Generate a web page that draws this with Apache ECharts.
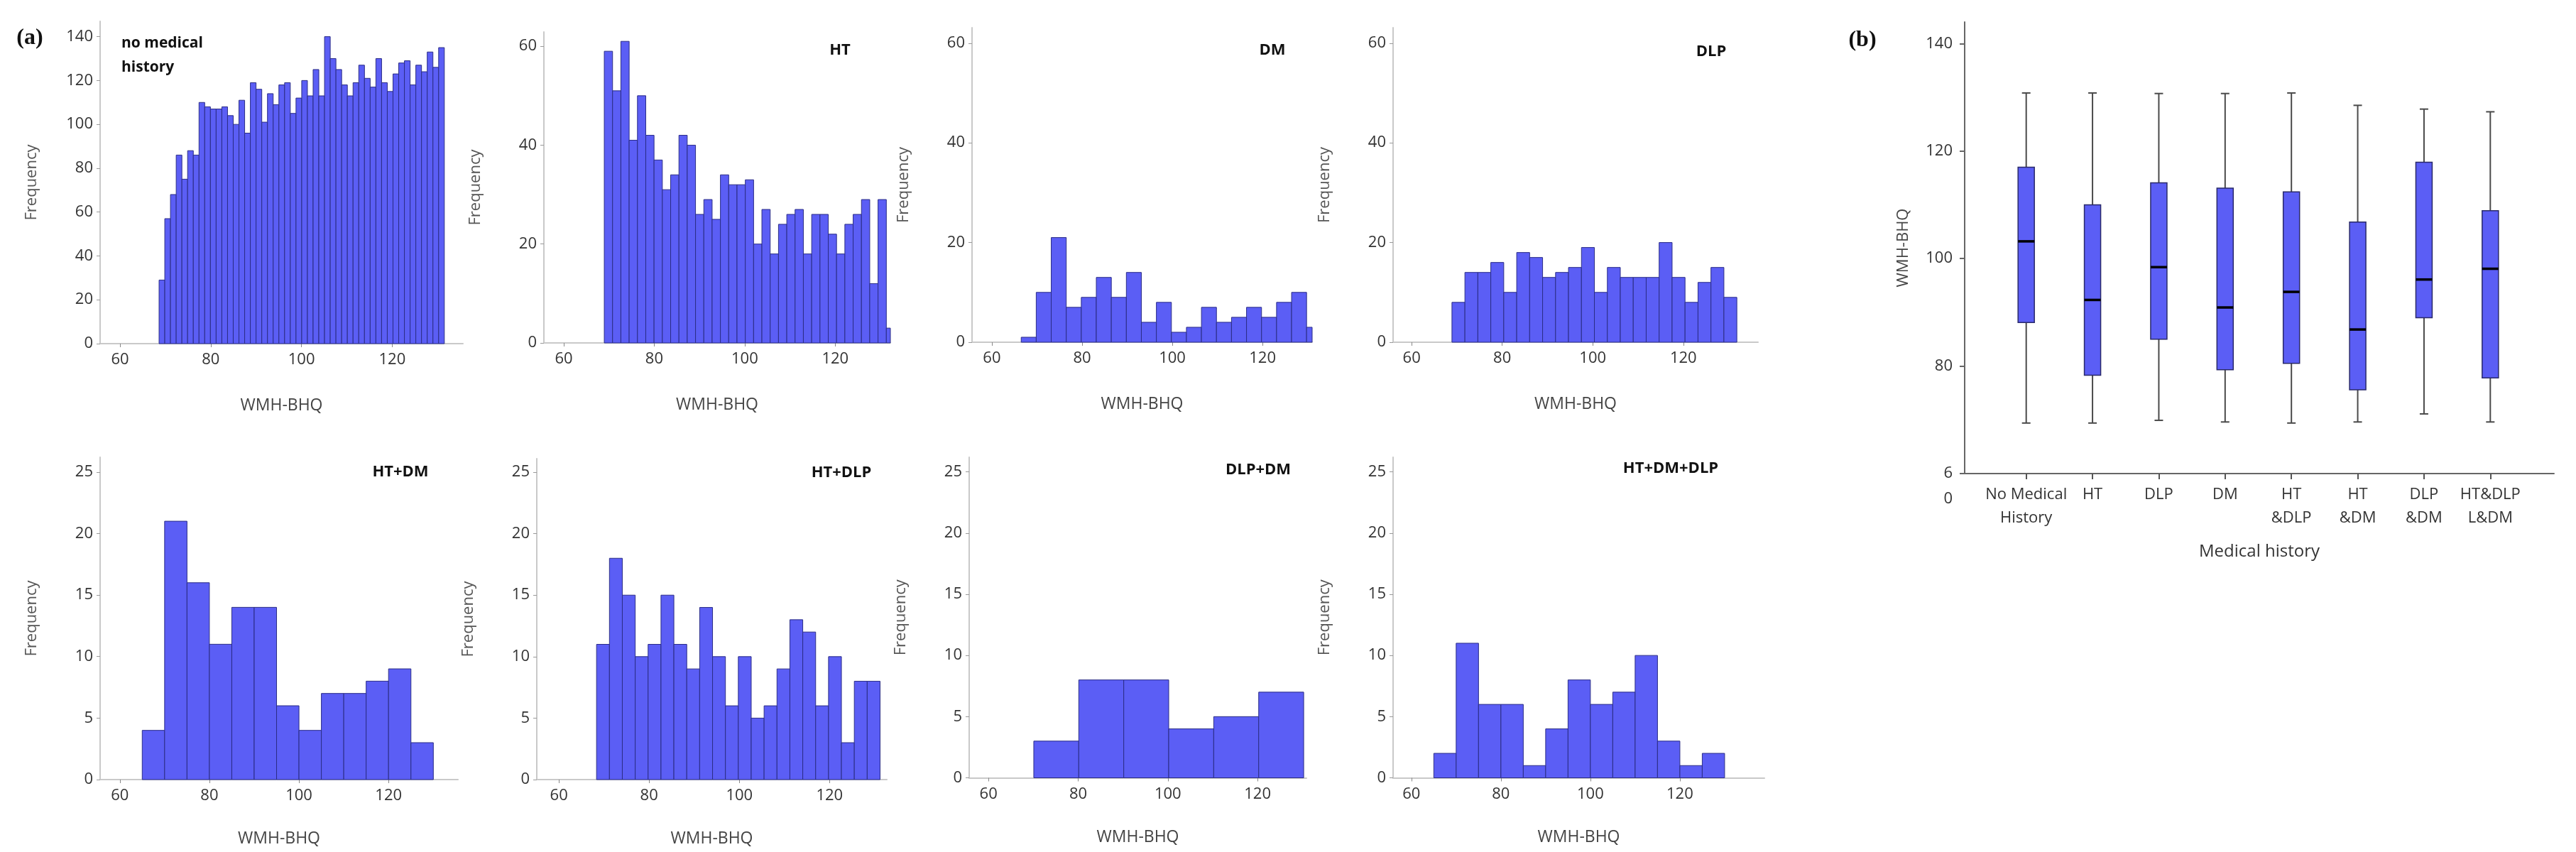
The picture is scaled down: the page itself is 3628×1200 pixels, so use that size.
<!DOCTYPE html>
<html><head><meta charset="utf-8">
<script src="https://cdn.jsdelivr.net/npm/echarts/dist/echarts.min.js"></script>
<style>html,body{margin:0;padding:0;background:#fff}#c{width:3628px;height:1200px}</style>
</head><body><div id="c"></div>
<script>
// ---------- data ----------
const panelNames = ['no medical\nhistory','HT','DM','DLP','HT+DM','HT+DLP','DLP+DM','HT+DM+DLP'];
const freqNone = [29,57,68,86,75,88,86,110,108,107,107,108,104,100,111,96,119,116,101,114,109,118,119,105,112,120,113,125,113,140,130,125,118,113,119,127,121,117,130,119,115,123,128,129,118,127,124,133,126,135];
const freqHT = [59,51,61,41,50,42,37,31,34,42,40,26,29,25,34,32,32,33,20,27,18,24,26,27,18,26,26,22,18,24,26,29,12,29,3];
const freqDM = [1,10,21,7,9,13,9,14,4,8,2,3,7,4,5,7,5,8,10,3];
const freqDLP = [8,14,14,16,10,18,17,13,14,15,19,10,15,13,13,13,20,13,8,12,15,9];
const freqHTDM = [4,21,16,11,14,14,6,4,7,7,8,9,3];
const freqHTDLP = [11,18,15,10,11,15,11,9,14,10,6,10,5,6,9,13,12,6,10,3,8,8];
const freqDLPDM = [3,8,8,4,5,7];
const freqAll3 = [2,11,6,6,1,4,8,6,7,10,3,1,2];
const binStart = [68.6,68.95,66.5,68.9,65,68.35,70.1,65];
const binWidth = [1.258,1.834,3.33,2.86,5,2.857,10.03,5];
const xTicks = [60,80,100,120];
const yTicksNone = [0,20,40,60,80,100,120,140];
const yTicksTop = [0,20,40,60];
const yTicksBottom = [0,5,10,15,20,25];

const boxCats = ['No Medical\nHistory','HT','DLP','DM','HT\n&DLP','HT\n&DM','DLP\n&DM','HT&DLP\nL&DM'];
const boxLow  = [69.4,69.4,69.9,69.6,69.4,69.6,71.1,69.6];
const boxQ1   = [88.1,78.3,85.0,79.3,80.5,75.6,89.0,77.8];
const boxMed  = [103.2,92.3,98.4,90.9,93.8,86.8,96.1,98.1];
const boxQ3   = [117.0,110.0,114.1,113.1,112.4,106.8,117.9,108.9];
const boxHigh = [130.8,130.8,130.7,130.7,130.8,128.5,127.8,127.3];
const boxTicks = [60,80,100,120,140];

// ---------- layout ----------
const freqs = [freqNone,freqHT,freqDM,freqDLP,freqHTDM,freqHTDLP,freqDLPDM,freqAll3];
const layout = [
 {g:{left:141,top:30,width:511,height:454}, xMin:55.6,xMax:135.6,yMax:147,yt:yTicksNone, t:{x:171,y:44,align:'left',va:'top',fs:21}},
 {g:{left:766,top:45,width:488,height:438}, xMin:55.6,xMax:132.2,yMax:62.9,yt:yTicksTop, t:{x:1183,y:71}},
 {g:{left:1369,top:39,width:479,height:443}, xMin:55.6,xMax:131.0,yMax:63.1,yt:yTicksTop, t:{x:1792,y:71}},
 {g:{left:1962,top:39,width:514,height:443}, xMin:55.9,xMax:136.5,yMax:63.1,yt:yTicksTop, t:{x:2410,y:73}},
 {g:{left:141,top:644,width:504,height:454}, xMin:55.6,xMax:135.5,yMax:26.2,yt:yTicksBottom, t:{x:564,y:665}},
 {g:{left:756,top:646,width:493,height:452}, xMin:55.1,xMax:132.7,yMax:26.1,yt:yTicksBottom, t:{x:1185,y:666}},
 {g:{left:1365,top:644,width:475,height:451.5}, xMin:55.7,xMax:130.9,yMax:26.2,yt:yTicksBottom, t:{x:1772,y:662}},
 {g:{left:1962,top:644,width:523,height:451.5}, xMin:55.9,xMax:138.9,yMax:26.2,yt:yTicksBottom, t:{x:2353,y:660}}
];
const FONT = 'Open Sans';
const BAR_FILL = '#5b5ef5', BAR_STROKE = '#2b2d86';
const AX = '#c9c9c9', LBL = '#333';

function histRender(params, api) {
  const a = api.coord([api.value(0), api.value(2)]);
  const b = api.coord([api.value(1), 0]);
  const cs = params.coordSys;
  const shape = echarts.graphic.clipRectByRect(
    {x:a[0], y:a[1], width:b[0]-a[0], height:b[1]-a[1]},
    {x:cs.x, y:cs.y, width:cs.width, height:cs.height});
  return shape && {type:'rect', shape, style:{fill:BAR_FILL, stroke:BAR_STROKE, lineWidth:1}};
}
function boxRender(params, api) {
  const i = api.value(0);
  const lo = api.coord([i, api.value(1)]), q1 = api.coord([i, api.value(2)]),
        md = api.coord([i, api.value(3)]), q3 = api.coord([i, api.value(4)]),
        hi = api.coord([i, api.value(5)]);
  const cx = md[0], bw = 23, cw = 12;
  const ws = {stroke:'#4a4a4a', lineWidth:2};
  return {type:'group', children:[
    {type:'line', shape:{x1:cx,y1:hi[1],x2:cx,y2:q3[1]}, style:ws},
    {type:'line', shape:{x1:cx,y1:q1[1],x2:cx,y2:lo[1]}, style:ws},
    {type:'line', shape:{x1:cx-cw/2,y1:hi[1],x2:cx+cw/2,y2:hi[1]}, style:ws},
    {type:'line', shape:{x1:cx-cw/2,y1:lo[1],x2:cx+cw/2,y2:lo[1]}, style:ws},
    {type:'rect', shape:{x:cx-bw/2,y:q3[1],width:bw,height:q1[1]-q3[1]}, style:{fill:BAR_FILL, stroke:'#2a2a6a', lineWidth:1.5}},
    {type:'line', shape:{x1:cx-bw/2,y1:md[1],x2:cx+bw/2,y2:md[1]}, style:{stroke:'#000', lineWidth:3.5}}
  ]};
}

const grids = [], xAxes = [], yAxes = [], series = [], graphics = [];
layout.forEach((L, k) => {
  grids.push(Object.assign({containLabel:false}, L.g));
  xAxes.push({type:'value', gridIndex:k, min:L.xMin, max:L.xMax,
    name:'WMH-BHQ', nameLocation:'middle', nameGap: k<4 ? 76 : 72,
    nameTextStyle:{fontFamily:FONT, fontSize:23, color:'#444'},
    axisLine:{show:true, lineStyle:{color:AX, width:2}},
    axisTick:{show:true, length:5, lineStyle:{color:'#888'}, customValues:xTicks},
    axisLabel:{fontFamily:FONT, fontSize:22, color:LBL, margin:12, customValues:xTicks},
    splitLine:{show:false}});
  yAxes.push({type:'value', gridIndex:k, min:0, max:L.yMax,
    name:'Frequency', nameLocation:'middle', nameGap:85,
    nameTextStyle:{fontFamily:FONT, fontSize:22, color:'#555'},
    axisLine:{show:true, lineStyle:{color:AX, width:2}},
    axisTick:{show:true, length:5, lineStyle:{color:'#999'}, customValues:L.yt},
    axisLabel:{fontFamily:FONT, fontSize:22, color:LBL, margin:10, customValues:L.yt},
    splitLine:{show:false}});
  const f = freqs[k], s = binStart[k], w = binWidth[k];
  series.push({type:'custom', xAxisIndex:k, yAxisIndex:k, renderItem:histRender,
    encode:{x:[0,1], y:2},
    data: f.map((v,i) => [s + i*w, s + (i+1)*w, v])});
  graphics.push({type:'text', x:L.t.x, y:L.t.y, style:{text:panelNames[k],
    fontFamily:FONT, fontWeight:'bold', fontSize:L.t.fs||22, fill:'#111',
    align:L.t.align||'center', verticalAlign:L.t.va||'middle', lineHeight:34}});
});

// boxplot: grid 8 = axis frame, grid 9 = category placement
grids.push({left:2767, top:31, width:830, height:636});
grids.push({left:2807, top:31, width:747, height:636});
xAxes.push({type:'value', gridIndex:8, min:0, max:1,
  name:'Medical history', nameLocation:'middle', nameGap:98,
  nameTextStyle:{fontFamily:FONT, fontSize:24, color:'#333'},
  axisLine:{show:true, lineStyle:{color:'#666', width:2}},
  axisTick:{show:false}, axisLabel:{show:false}, splitLine:{show:false}});
yAxes.push({type:'value', gridIndex:8, min:60, max:144,
  name:'WMH-BHQ', nameLocation:'middle', nameGap:75,
  nameTextStyle:{fontFamily:FONT, fontSize:22, color:'#444'},
  axisLine:{show:true, lineStyle:{color:'#666', width:2}},
  axisTick:{show:true, length:7, lineStyle:{color:'#666', width:2}, customValues:boxTicks},
  axisLabel:{fontFamily:FONT, fontSize:22, color:LBL, margin:17, lineHeight:36, customValues:boxTicks,
    formatter: v => (v === 60 ? ' \n6\n0' : String(v))},
  splitLine:{show:false}});
xAxes.push({type:'category', gridIndex:9, data:boxCats, boundaryGap:true,
  axisLine:{show:false},
  axisTick:{show:true, alignWithLabel:true, length:8, lineStyle:{color:'#555', width:2}},
  axisLabel:{fontFamily:FONT, fontSize:22, color:LBL, margin:13, lineHeight:33, interval:0}});
yAxes.push({type:'value', gridIndex:9, min:60, max:144, show:false});
series.push({type:'custom', xAxisIndex:9, yAxisIndex:9, renderItem:boxRender,
  encode:{x:0, y:[1,2,3,4,5]},
  data: boxCats.map((c,i) => [i, boxLow[i], boxQ1[i], boxMed[i], boxQ3[i], boxHigh[i]])});

graphics.push({type:'text', x:42, y:54, style:{text:'(a)', fontFamily:'Liberation Serif', fontWeight:'bold', fontSize:32, fill:'#111', align:'center', verticalAlign:'middle'}});
graphics.push({type:'text', x:2623, y:57, style:{text:'(b)', fontFamily:'Liberation Serif', fontWeight:'bold', fontSize:32, fill:'#111', align:'center', verticalAlign:'middle'}});

const chart = echarts.init(document.getElementById('c'), null, {renderer:'canvas'});
chart.setOption({
  backgroundColor:'#fff', animation:false,
  textStyle:{fontFamily:FONT},
  grid:grids, xAxis:xAxes, yAxis:yAxes, series, graphic:graphics
});
</script></body></html>
